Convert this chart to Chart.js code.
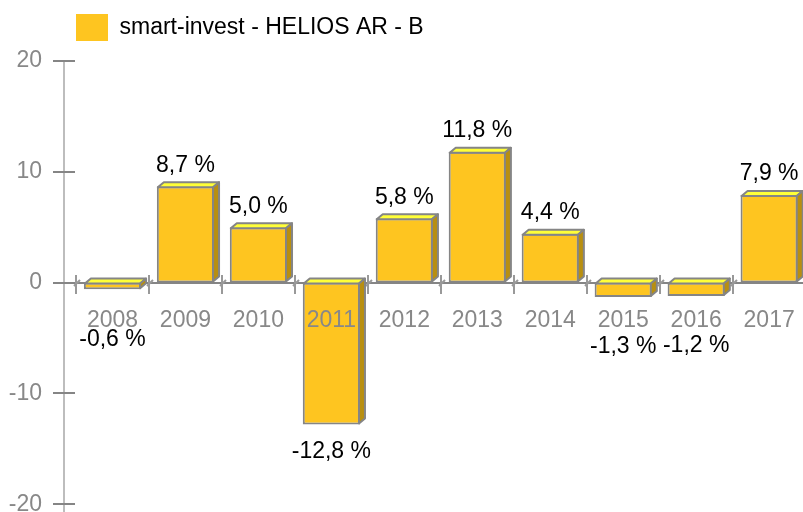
<!DOCTYPE html>
<html>
<head>
<meta charset="utf-8">
<script src="https://cdn.jsdelivr.net/npm/chart.js@4"></script>
<style>
  html, body { margin: 0; padding: 0; background: #fff; overflow: hidden; }
  #wrap { position: relative; width: 811px; height: 552px; }
</style>
</head>
<body>
<div id="wrap"><canvas id="chart"></canvas></div>
<script>
// ── Data ──────────────────────────────────────────────
const seriesName = 'smart-invest - HELIOS AR - B';
const years   = ['2008', '2009', '2010', '2011', '2012', '2013', '2014', '2015', '2016', '2017'];
const returns = [-0.6, 8.7, 5.0, -12.8, 5.8, 11.8, 4.4, -1.3, -1.2, 7.9];
const yMin = -20, yMax = 20, yStep = 10;

// ── Look ──────────────────────────────────────────────
const FONT = '"Liberation Sans", Arial, sans-serif';
const FRONT = '#FEC520';
const TOPFACE = '#FFFF38';
const SIDE = '#B88F10';
const EDGE = '#858585';
const DEPTH_X = 6, DEPTH_Y = 5;

const fmt = v => v.toFixed(1).replace('.', ',') + ' %';

// axis line, ticks and the "floor" marks of the 3D look
const axisDeco = {
  id: 'axisDeco',
  afterInit(chart) {
    // a little more room between legend and plot
    const fit = chart.legend.fit;
    chart.legend.fit = function () { fit.call(this); this.height += 10; };
  },
  beforeDatasetsDraw(chart) {
    const { ctx, chartArea: a, scales: { x, y } } = chart;
    const ax = a.left - 12;
    ctx.save();
    ctx.lineWidth = 2;
    ctx.strokeStyle = '#bdbdbd';
    ctx.beginPath();
    ctx.moveTo(ax, a.top - 1);
    ctx.lineTo(ax, a.bottom + 10);
    ctx.stroke();

    ctx.strokeStyle = EDGE;
    y.ticks.forEach(t => {
      const py = Math.round(y.getPixelForValue(t.value));
      ctx.beginPath();
      ctx.moveTo(ax - 11, py);
      ctx.lineTo(ax + 11, py);
      ctx.stroke();
    });

    const zero = Math.round(y.getPixelForValue(0));
    ctx.strokeStyle = '#999';
    for (let i = 0; i <= years.length; i++) {
      const px = Math.round(x.getPixelForValue(i - 0.5));
      ctx.beginPath();
      ctx.moveTo(px, zero - 8);
      ctx.lineTo(px, zero + 11);
      ctx.moveTo(px - 2, zero + 3);
      ctx.lineTo(px + 4, zero - 3);
      ctx.stroke();
    }
    ctx.restore();
  },
  afterDatasetsDraw(chart) {
    const { ctx } = chart;
    const meta = chart.getDatasetMeta(0);
    ctx.save();
    ctx.lineWidth = 2;
    ctx.strokeStyle = EDGE;
    ctx.lineJoin = 'round';
    meta.data.forEach((bar, i) => {
      const { x, y, base, width } = bar.getProps(['x', 'y', 'base', 'width'], true);
      const l = x - width / 2 + 1, r = x + width / 2 - 1;
      const top = Math.min(y, base) + 1, bot = Math.max(y, base) - 1;

      ctx.fillStyle = TOPFACE;
      ctx.beginPath();
      ctx.moveTo(l, top);
      ctx.lineTo(l + DEPTH_X, top - DEPTH_Y);
      ctx.lineTo(r + DEPTH_X, top - DEPTH_Y);
      ctx.lineTo(r, top);
      ctx.closePath();
      ctx.fill();
      ctx.stroke();

      ctx.fillStyle = SIDE;
      ctx.beginPath();
      ctx.moveTo(r, top);
      ctx.lineTo(r + DEPTH_X, top - DEPTH_Y);
      ctx.lineTo(r + DEPTH_X, bot - DEPTH_Y);
      ctx.lineTo(r, bot);
      ctx.closePath();
      ctx.fill();
      ctx.stroke();

      // value label
      const v = returns[i];
      ctx.fillStyle = '#000';
      ctx.font = '23px ' + FONT;
      ctx.textAlign = 'center';
      ctx.textBaseline = 'middle';
      let ly;
      if (v >= 0) {
        ly = top - 22;
      } else {
        ly = bot + 28;
        if (ly < 345) ly = bot + 51;
      }
      ctx.fillText(fmt(v), x, ly);
    });
    ctx.restore();
  }
};

new Chart(document.getElementById('chart'), {
  type: 'bar',
  data: {
    labels: years,
    datasets: [{
      label: seriesName,
      data: returns,
      backgroundColor: FRONT,
      borderColor: EDGE,
      borderWidth: 2,
      borderSkipped: false,
      categoryPercentage: 0.8,
      barPercentage: 0.98,
    }],
  },
  options: {
    responsive: true,
    maintainAspectRatio: false,
    animation: false,
    devicePixelRatio: 1,
    layout: { padding: { top: 14, right: 4, bottom: 16, left: 0 } },
    scales: {
      x: {
        position: { y: 0 },
        grid: { display: false },
        border: { display: true, color: EDGE, width: 2 },
        ticks: { z: 1, color: '#888', font: { family: FONT, size: 23 }, padding: 16, maxRotation: 0, autoSkip: false },
      },
      y: {
        min: yMin,
        max: yMax,
        grid: { display: false, drawTicks: false },
        border: { display: false },
        ticks: { stepSize: yStep, color: '#888', padding: 34, font: { family: FONT, size: 23 } },
        afterFit: s => { s.width = 76; },
      },
    },
    plugins: {
      legend: {
        position: 'top',
        align: 'start',
        fullSize: false,
        labels: {
          boxWidth: 32,
          boxHeight: 27,
          padding: 0,
          color: '#000',
          font: { family: FONT, size: 23 },
          generateLabels: () => [{
            text: seriesName, fillStyle: FRONT, strokeStyle: FRONT,
            lineWidth: 0, hidden: false, datasetIndex: 0,
          }],
        },
      },
      tooltip: { enabled: false },
    },
  },
  plugins: [axisDeco],
});
</script>
</body>
</html>
